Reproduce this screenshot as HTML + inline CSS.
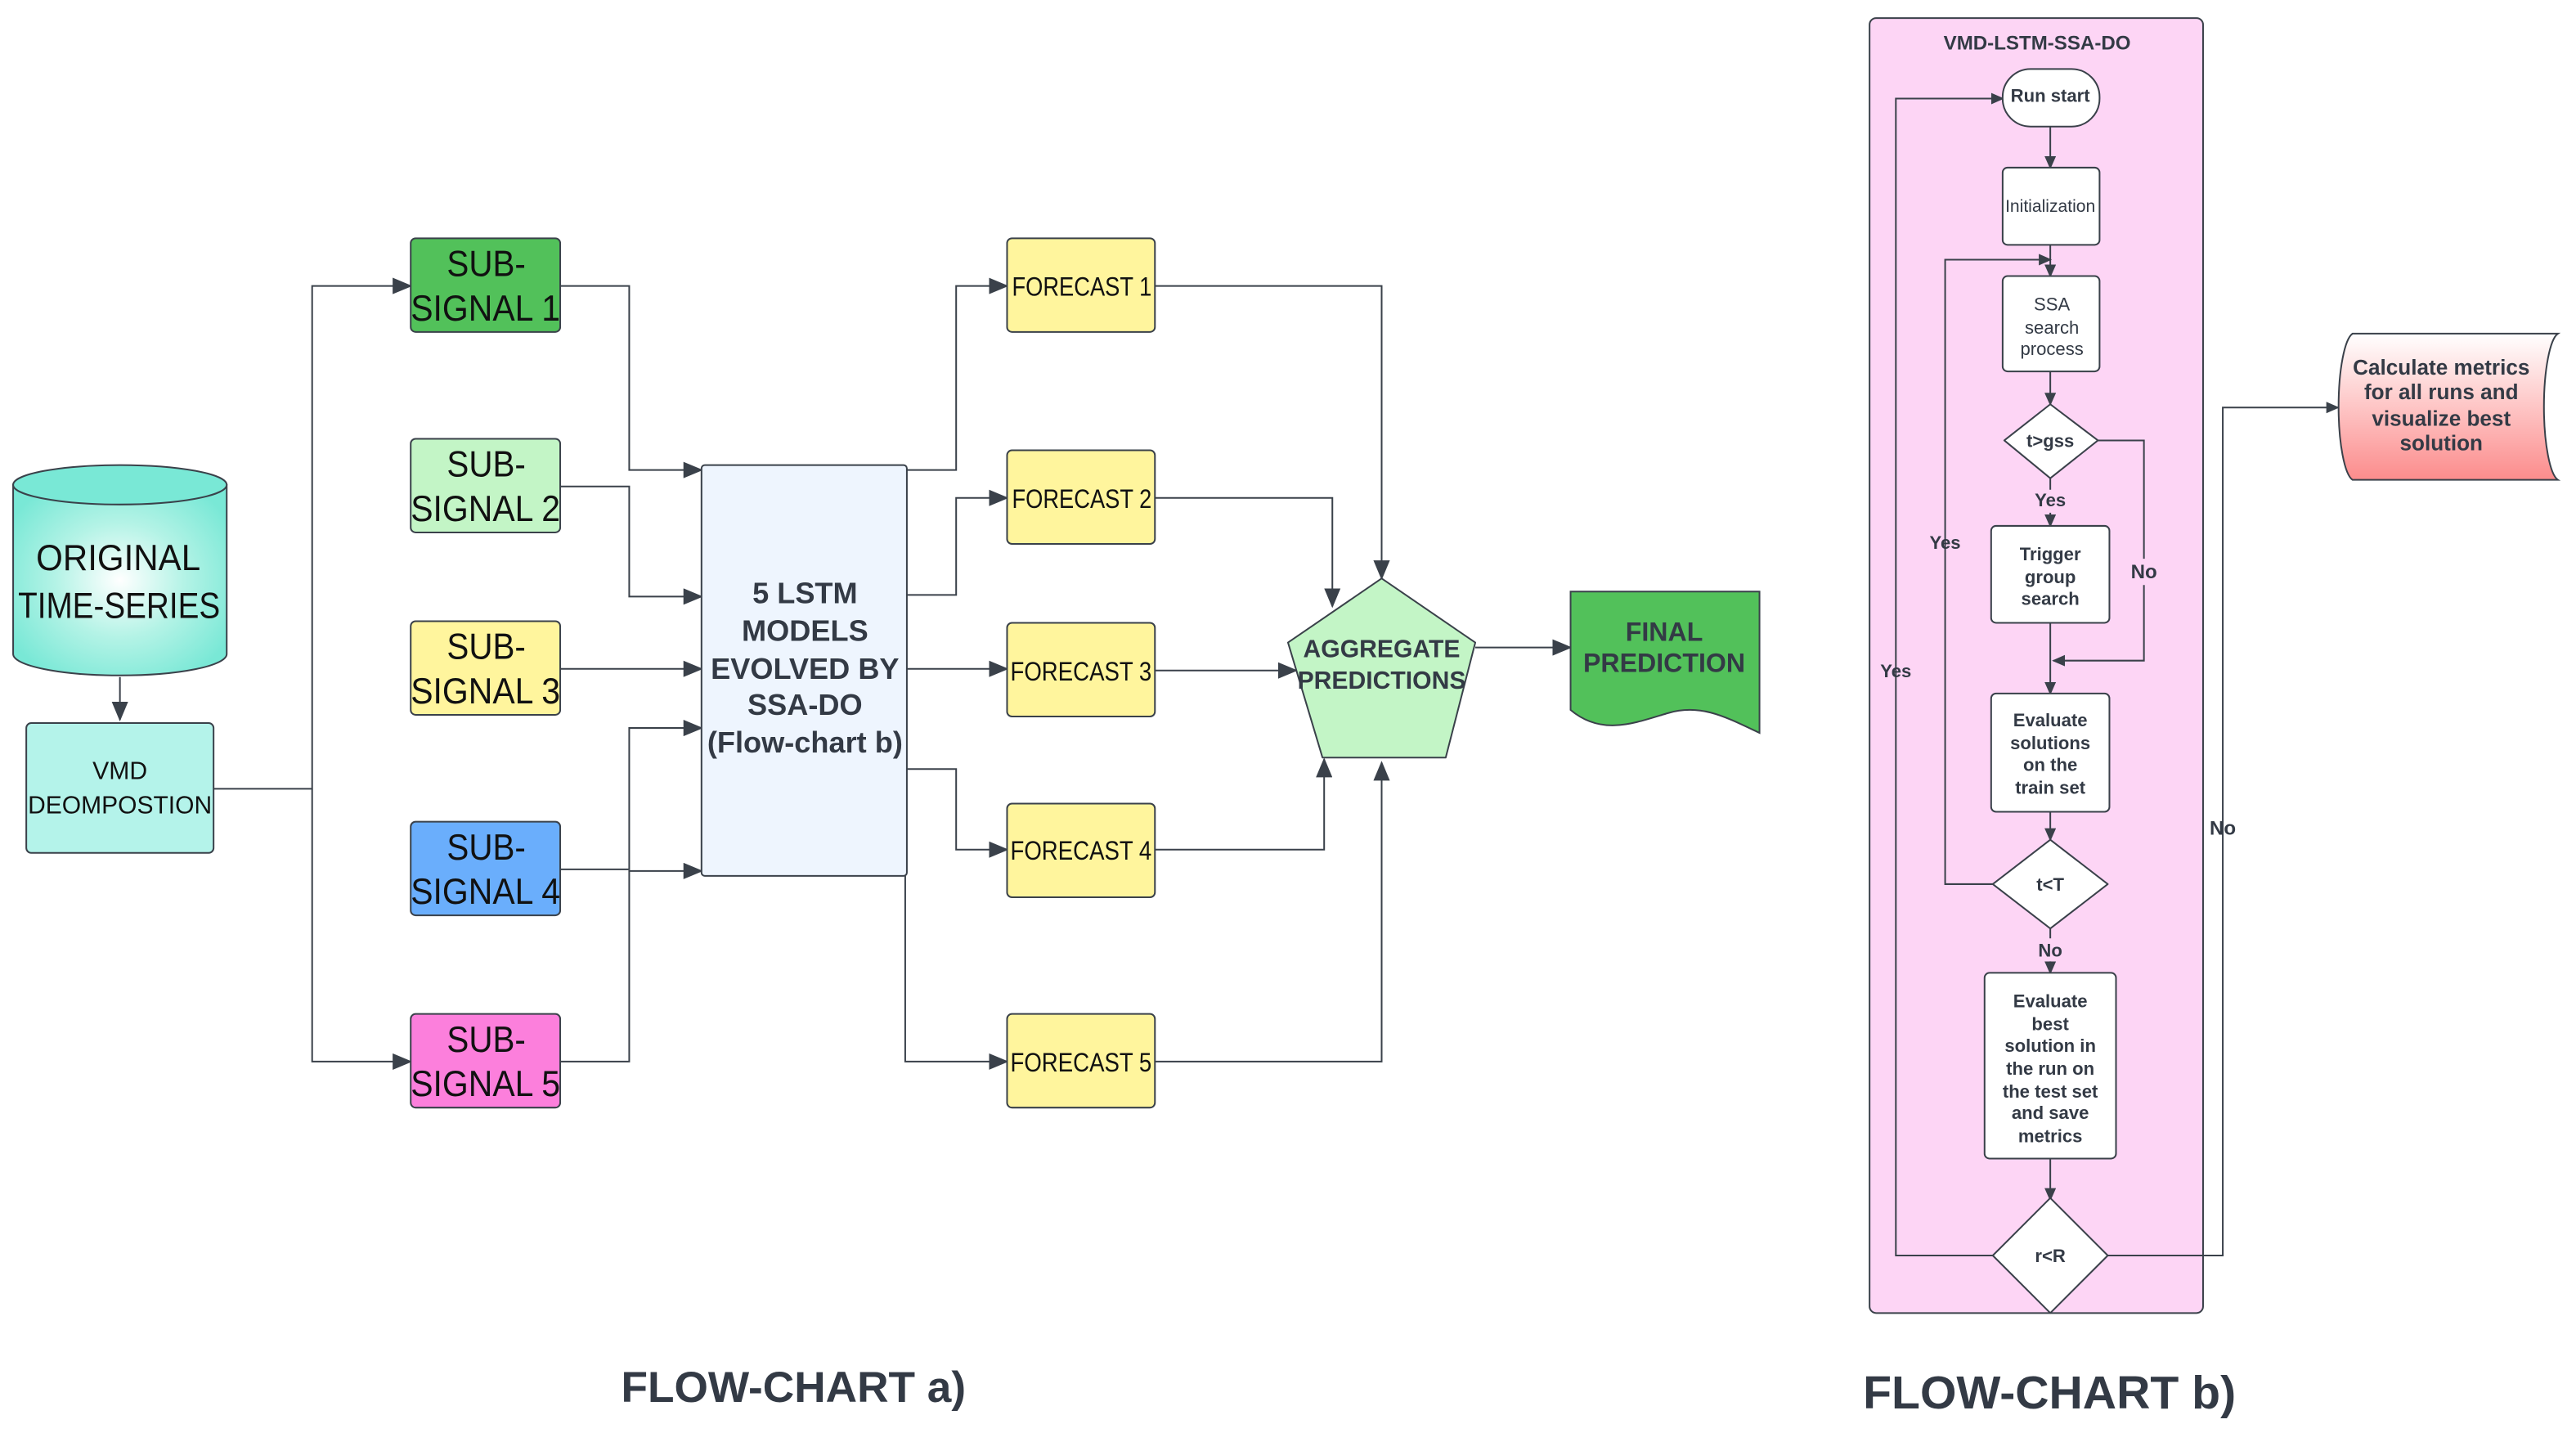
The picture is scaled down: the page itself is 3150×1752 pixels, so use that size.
<!DOCTYPE html>
<html><head><meta charset="utf-8"><style>
html,body{margin:0;padding:0;background:#fff;}
svg{display:block;}
text{font-family:"Liberation Sans",sans-serif;}
</style></head><body>
<svg width="3150" height="1752" viewBox="0 0 1568 872" preserveAspectRatio="none" xmlns="http://www.w3.org/2000/svg">
<defs>
<marker id="a" markerUnits="userSpaceOnUse" markerWidth="12" markerHeight="10" refX="11" refY="5" orient="auto">
<path d="M0,0 L12,5 L0,10 Z" fill="#3a414a"/></marker>
<marker id="s" markerUnits="userSpaceOnUse" markerWidth="8" markerHeight="7" refX="7" refY="3.5" orient="auto">
<path d="M0,0 L8,3.5 L0,7 Z" fill="#3a414a"/></marker>
<radialGradient id="cyl" cx="0.5" cy="0.5" r="0.6"><stop offset="0" stop-color="#ffffff"/><stop offset="0.5" stop-color="#b4f3e6"/><stop offset="1" stop-color="#79e8d6"/></radialGradient>
<linearGradient id="red" x1="0" y1="0" x2="0" y2="1"><stop offset="0" stop-color="#ffffff"/><stop offset="1" stop-color="#fc8c8c"/></linearGradient>
</defs>
<g fill="none" stroke="#3a414a" stroke-width="1">
<path d="M73,412 V438" marker-end="url(#a)"/>
<path d="M130,480 H190 V174 H250" marker-end="url(#a)"/>
<path d="M190,480 V646 H250" marker-end="url(#a)"/>
<path d="M341,174 H383 V286 H427" marker-end="url(#a)"/>
<path d="M341,296 H383 V363 H427" marker-end="url(#a)"/>
<path d="M341,407 H427" marker-end="url(#a)"/>
<path d="M341,529 H383 V443 H427" marker-end="url(#a)"/>
<path d="M341,646 H383 V530 H427" marker-end="url(#a)"/>
<path d="M552,286 H582 V174 H613" marker-end="url(#a)"/>
<path d="M552,362 H582 V303 H613" marker-end="url(#a)"/>
<path d="M552,407 H613" marker-end="url(#a)"/>
<path d="M552,468 H582 V517 H613" marker-end="url(#a)"/>
<path d="M551,533 V646 H613" marker-end="url(#a)"/>
<path d="M703,174 H841 V352" marker-end="url(#a)"/>
<path d="M703,303 H811 V369" marker-end="url(#a)"/>
<path d="M703,408 H789" marker-end="url(#a)"/>
<path d="M703,517 H806 V462" marker-end="url(#a)"/>
<path d="M703,646 H841 V464" marker-end="url(#a)"/>
<path d="M898,394 H956" marker-end="url(#a)"/>
</g>
<path d="M8,295 V398 A65,13 0 0 0 138,398 V295 Z" fill="url(#cyl)" stroke="#3a414a"/>
<ellipse cx="73" cy="295" rx="65" ry="12" fill="#79e8d6" stroke="#3a414a"/>
<text x="22" y="347" font-size="22" fill="#111" textLength="100" lengthAdjust="spacingAndGlyphs">ORIGINAL</text>
<text x="11" y="376" font-size="22" fill="#111" textLength="123" lengthAdjust="spacingAndGlyphs">TIME-SERIES</text>
<rect x="16" y="440" width="114" height="79" rx="3" fill="#b4f3ea" stroke="#3a414a"/>
<text x="73" y="474" font-size="15" text-anchor="middle" fill="#111">VMD</text>
<text x="17" y="495" font-size="15" fill="#111" textLength="112" lengthAdjust="spacingAndGlyphs">DEOMPOSTION</text>
<g stroke="#3a414a">
<rect x="250" y="145" width="91" height="57" rx="3" fill="#52c15a"/>
<rect x="250" y="267" width="91" height="57" rx="3" fill="#c3f5c6"/>
<rect x="250" y="378" width="91" height="57" rx="3" fill="#fff59d"/>
<rect x="250" y="500" width="91" height="57" rx="3" fill="#6aaefc"/>
<rect x="250" y="617" width="91" height="57" rx="3" fill="#fc7fdc"/>
</g>
<g font-size="22" fill="#111">
<text x="272" y="168" textLength="48" lengthAdjust="spacingAndGlyphs">SUB-</text><text x="250" y="195" textLength="91" lengthAdjust="spacingAndGlyphs">SIGNAL 1</text>
<text x="272" y="290" textLength="48" lengthAdjust="spacingAndGlyphs">SUB-</text><text x="250" y="317" textLength="91" lengthAdjust="spacingAndGlyphs">SIGNAL 2</text>
<text x="272" y="401" textLength="48" lengthAdjust="spacingAndGlyphs">SUB-</text><text x="250" y="428" textLength="91" lengthAdjust="spacingAndGlyphs">SIGNAL 3</text>
<text x="272" y="523" textLength="48" lengthAdjust="spacingAndGlyphs">SUB-</text><text x="250" y="550" textLength="91" lengthAdjust="spacingAndGlyphs">SIGNAL 4</text>
<text x="272" y="640" textLength="48" lengthAdjust="spacingAndGlyphs">SUB-</text><text x="250" y="667" textLength="91" lengthAdjust="spacingAndGlyphs">SIGNAL 5</text>
</g>
<rect x="427" y="283" width="125" height="250" rx="2" fill="#eef5fe" stroke="#3a414a"/>
<g font-size="18" font-weight="bold" fill="#333a45" text-anchor="middle">
<text x="490" y="367">5 LSTM</text><text x="490" y="390">MODELS</text><text x="490" y="413">EVOLVED BY</text><text x="490" y="435">SSA-DO</text><text x="490" y="458">(Flow-chart b)</text>
</g>
<g stroke="#3a414a" fill="#fff59d">
<rect x="613" y="145" width="90" height="57" rx="3"/>
<rect x="613" y="274" width="90" height="57" rx="3"/>
<rect x="613" y="379" width="90" height="57" rx="3"/>
<rect x="613" y="489" width="90" height="57" rx="3"/>
<rect x="613" y="617" width="90" height="57" rx="3"/>
</g>
<g font-size="16" fill="#111">
<text x="616" y="180" textLength="85" lengthAdjust="spacingAndGlyphs">FORECAST 1</text>
<text x="616" y="309" textLength="85" lengthAdjust="spacingAndGlyphs">FORECAST 2</text>
<text x="615" y="414" textLength="86" lengthAdjust="spacingAndGlyphs">FORECAST 3</text>
<text x="615" y="523" textLength="86" lengthAdjust="spacingAndGlyphs">FORECAST 4</text>
<text x="615" y="652" textLength="86" lengthAdjust="spacingAndGlyphs">FORECAST 5</text>
</g>
<path d="M841,352 L898,391 L880,461 L805,461 L784,391 Z" fill="#c3f5c6" stroke="#3a414a" stroke-linejoin="round"/>
<g font-size="15" font-weight="bold" fill="#333a45" text-anchor="middle">
<text x="841" y="400">AGGREGATE</text><text x="841" y="419">PREDICTIONS</text>
</g>
<path d="M956,360 H1071 V446 C1050,436 1035,428 1015,434 C995,440 975,448 956,432 Z" fill="#52c15a" stroke="#3a414a"/>
<g font-size="16" font-weight="bold" fill="#333a45" text-anchor="middle">
<text x="1013" y="390">FINAL</text><text x="1013" y="409">PREDICTION</text>
</g>
<text x="483" y="853" font-size="26.5" font-weight="bold" fill="#333a45" text-anchor="middle">FLOW-CHART a)</text>

<rect x="1138" y="11" width="203" height="788" rx="4" fill="#fdd5f5" stroke="#3a414a"/>
<text x="1240" y="30" font-size="12" font-weight="bold" fill="#333a45" text-anchor="middle">VMD-LSTM-SSA-DO</text>
<g fill="none" stroke="#3a414a" stroke-width="1">
<path d="M1248,77 V102" marker-end="url(#s)"/>
<path d="M1248,149 V168" marker-end="url(#s)"/>
<path d="M1213,538 H1184 V158 H1248" marker-end="url(#s)"/>
<path d="M1248,226 V246" marker-end="url(#s)"/>
<path d="M1248,291 V298 M1248,312 V320" marker-end="url(#s)"/>
<path d="M1248,379 V422" marker-end="url(#s)"/>
<path d="M1277,268 H1305 V340 M1305,356 V402 H1250" marker-end="url(#s)"/>
<path d="M1248,494 V511" marker-end="url(#s)"/>
<path d="M1248,565 V571 M1248,585 V592" marker-end="url(#s)"/>
<path d="M1248,705 V730" marker-end="url(#s)"/>
<path d="M1213,764 H1154 V60 H1219" marker-end="url(#s)"/>
<path d="M1283,764 H1353 V248 H1423" marker-end="url(#s)"/>
</g>
<rect x="1219" y="42" width="59" height="35" rx="17" fill="#fff" stroke="#3a414a"/>
<rect x="1219" y="102" width="59" height="47" rx="3" fill="#fff" stroke="#3a414a"/>
<rect x="1219" y="168" width="59" height="58" rx="3" fill="#fff" stroke="#3a414a"/>
<path d="M1248,246 L1277,268 L1248,291 L1220,268 Z" fill="#fff" stroke="#3a414a" stroke-linejoin="round"/>
<rect x="1212" y="320" width="72" height="59" rx="3" fill="#fff" stroke="#3a414a"/>
<rect x="1212" y="422" width="72" height="72" rx="3" fill="#fff" stroke="#3a414a"/>
<path d="M1248,511 L1283,538 L1248,565 L1213,538 Z" fill="#fff" stroke="#3a414a" stroke-linejoin="round"/>
<rect x="1208" y="592" width="80" height="113" rx="3" fill="#fff" stroke="#3a414a"/>
<path d="M1248,729 L1283,764 L1248,799 L1213,764 Z" fill="#fff" stroke="#3a414a" stroke-linejoin="round"/>
<g font-size="11" fill="#333a45" text-anchor="middle">
<text x="1248" y="62" font-weight="bold">Run start</text>
<text x="1248" y="129" font-size="10.5">Initialization</text>
<text x="1249" y="189">SSA</text><text x="1249" y="203">search</text><text x="1249" y="216">process</text>
<text x="1248" y="272" font-weight="bold">t&gt;gss</text>
<text x="1248" y="308" font-weight="bold">Yes</text>
<g font-weight="bold"><text x="1248" y="341">Trigger</text><text x="1248" y="355">group</text><text x="1248" y="368">search</text></g>
<text x="1305" y="352" font-size="12" font-weight="bold">No</text>
<g font-weight="bold"><text x="1248" y="442">Evaluate</text><text x="1248" y="456">solutions</text><text x="1248" y="469">on the</text><text x="1248" y="483">train set</text></g>
<text x="1248" y="542" font-weight="bold">t&lt;T</text>
<text x="1248" y="582" font-weight="bold">No</text>
<text x="1184" y="334" font-weight="bold">Yes</text>
<text x="1154" y="412" font-weight="bold">Yes</text>
<g font-weight="bold"><text x="1248" y="613">Evaluate</text><text x="1248" y="627">best</text><text x="1248" y="640">solution in</text><text x="1248" y="654">the run on</text><text x="1248" y="668">the test set</text><text x="1248" y="681">and save</text><text x="1248" y="695">metrics</text></g>
<text x="1248" y="768" font-weight="bold">r&lt;R</text>
<text x="1353" y="508" font-size="12" font-weight="bold">No</text>
</g>
<path d="M1432,203 H1557 A10,45 0 0 0 1557,292 H1432 A10,45 0 0 1 1432,203 Z" fill="url(#red)" stroke="#3a414a"/>
<g font-size="13" font-weight="bold" fill="#333a45" text-anchor="middle">
<text x="1486" y="228">Calculate metrics</text><text x="1486" y="243">for all runs and</text><text x="1486" y="259">visualize best</text><text x="1486" y="274">solution</text>
</g>
<text x="1134" y="857" font-size="28" font-weight="bold" fill="#333a45" textLength="227" lengthAdjust="spacingAndGlyphs">FLOW-CHART b)</text>
</svg>
</body></html>
